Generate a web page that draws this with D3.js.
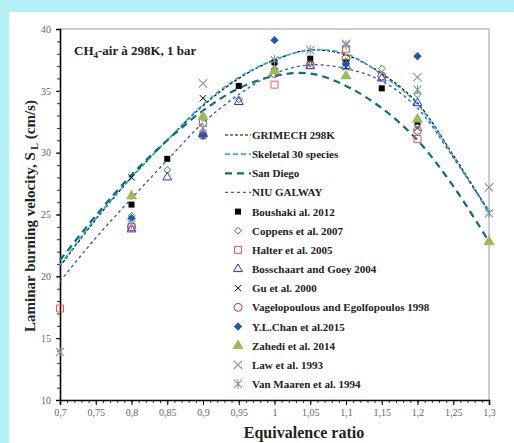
<!DOCTYPE html>
<meta charset="utf-8">
<script src="https://cdn.jsdelivr.net/npm/d3@7/dist/d3.min.js"></script>
<style>
    body { margin: 0; background: #b4f1f7; }
    svg { display: block; }
</style>
<div id="my_dataviz"></div>
<script>
    // model curves, sampled every 0.05
    let phiModel = [0.7, 0.75, 0.8, 0.85, 0.9, 0.95, 1.0, 1.05, 1.1, 1.15, 1.2, 1.25, 1.3];
    let grimech  = [20.8, 24.6, 28.0, 31.0, 33.8, 36.0, 37.5, 38.3, 37.9, 36.4, 34.0, 29.8, 25.2];
    let skeletal = [20.9, 24.7, 28.0, 31.0, 33.9, 36.1, 37.5, 38.3, 38.0, 36.3, 33.9, 29.7, 25.1];
    let sanDiego = [21.3, 24.9, 28.2, 31.0, 33.4, 35.2, 36.2, 36.4, 35.4, 33.6, 31.0, 27.3, 22.8];
    let niuGalway = [19.6, 23.1, 26.3, 29.4, 32.4, 34.7, 36.4, 37.1, 36.8, 35.8, 33.6, 29.6, 25.3];

    // experiments
    let boushakiX = [0.8, 0.85, 0.95, 1.0, 1.05, 1.1, 1.15, 1.2];
    let boushakiY = [25.8, 29.5, 35.4, 37.3, 37.6, 37.3, 35.2, 32.5];
    let coppensX = [0.8, 0.85, 0.9, 0.95, 1.0, 1.05, 1.1, 1.15, 1.2];
    let coppensY = [24.9, 28.6, 32.8, 34.3, 36.7, 37.2, 37.4, 36.8, 34.7];
    let halterX = [0.7, 0.8, 0.9, 1.0, 1.1, 1.2];
    let halterY = [17.4, 24.0, 32.4, 35.5, 38.4, 31.1];
    let bosschaartX = [0.8, 0.85, 0.9, 0.95, 1.0, 1.05, 1.1, 1.15, 1.2];
    let bosschaartY = [23.8, 28.0, 31.5, 34.1, 36.6, 37.0, 37.0, 36.0, 34.0];
    let guX = [0.8, 0.9, 1.0, 1.1, 1.2];
    let guY = [28.0, 34.4, 37.0, 36.9, 32.0];
    let vageloX = [0.8, 0.9, 1.0, 1.05, 1.1, 1.15, 1.2];
    let vageloY = [24.0, 31.4, 36.4, 37.1, 37.6, 36.2, 31.8];
    let chanX = [0.8, 0.9, 1.0, 1.1, 1.2];
    let chanY = [24.7, 31.4, 39.1, 37.2, 37.8];
    let zahediX = [0.8, 0.9, 1.0, 1.1, 1.2, 1.3];
    let zahediY = [26.5, 32.9, 36.6, 36.2, 32.7, 22.8];
    let lawX = [0.9, 1.1, 1.2, 1.3];
    let lawY = [35.6, 38.8, 36.1, 27.2];
    let maarenX = [0.7, 0.8, 0.9, 1.0, 1.05, 1.1, 1.2, 1.3];
    let maarenY = [13.9, 24.2, 32.0, 37.5, 38.3, 38.7, 35.1, 25.1];

    let xTicks = [0.7, 0.75, 0.8, 0.85, 0.9, 0.95, 1.0, 1.05, 1.1, 1.15, 1.2, 1.25, 1.3];
    let yTicks = [10, 15, 20, 25, 30, 35, 40];

    let W = 514, H = 443;
    let m = {left: 60, right: 489, top: 29, bottom: 400};

    let svg = d3.select("#my_dataviz").append("svg")
        .attr("width", W)
        .attr("height", H)
    ;

    svg.append("rect")
        .attr("x", 9).attr("y", 12)
        .attr("width", W - 9).attr("height", H - 12)
        .attr("fill", "#fff")
    ;

    let xScale = d3.scaleLinear().domain([0.7, 1.3]).range([m.left, m.right]);
    let yScale = d3.scaleLinear().domain([10, 40]).range([m.bottom, m.top]);

    let fmt = d => String(+d.toFixed(2)).replace(".", ",");

    // frame (top/right grey)
    svg.append("path")
        .attr("d", `M${m.left},${m.top}H${m.right}V${m.bottom}`)
        .attr("fill", "none")
        .attr("stroke", "#bdbdbd")
        .attr("stroke-width", 1.5)
    ;

    // minor ticks
    let minorX = d3.range(70, 131).map(d => d / 100);
    svg.append("g")
        .attr("transform", `translate(0,${m.bottom})`)
        .call(d3.axisBottom(xScale).tickValues(minorX).tickSize(3).tickFormat(""))
        .call(g => g.select(".domain").remove())
        .call(g => g.selectAll("line").attr("stroke", "#000").attr("stroke-width", 0.8))
    ;
    let minorY = d3.range(10, 41);
    svg.append("g")
        .attr("transform", `translate(${m.left},0)`)
        .call(d3.axisLeft(yScale).tickValues(minorY).tickSize(3).tickFormat(""))
        .call(g => g.select(".domain").remove())
        .call(g => g.selectAll("line").attr("stroke", "#000").attr("stroke-width", 0.8))
    ;

    let xAxis = d3.axisBottom(xScale)
        .tickValues(xTicks)
        .tickSize(5)
        .tickPadding(4)
        .tickFormat(fmt)
    ;
    let yAxis = d3.axisLeft(yScale)
        .tickValues(yTicks)
        .tickSize(4)
        .tickPadding(5)
    ;

    svg.append("g")
        .attr("transform", `translate(0,${m.bottom})`)
        .call(xAxis)
        .call(g => g.select(".domain").attr("stroke", "#000").attr("stroke-width", 1.6))
        .call(g => g.selectAll("line").attr("stroke", "#000"))
        .call(g => g.selectAll("text").attr("fill", "#666").attr("font-family", "Liberation Serif").attr("font-size", 10))
    ;
    svg.append("g")
        .attr("transform", `translate(${m.left},0)`)
        .call(yAxis)
        .call(g => g.select(".domain").attr("stroke", "#000").attr("stroke-width", 1.6))
        .call(g => g.selectAll("line").attr("stroke", "#000"))
        .call(g => g.selectAll("text").attr("fill", "#666").attr("font-family", "Liberation Serif").attr("font-size", 10))
    ;

    // curves
    let models = [
        {name: "GRIMECH 298K", y: grimech, color: "#000", dash: "3,2", w: 1.2},
        {name: "Skeletal 30 species", y: skeletal, color: "#2cb3e6", dash: "5,3", w: 1.6},
        {name: "San Diego", y: sanDiego, color: "#0b6f76", dash: "7,5", w: 2.2},
        {name: "NIU GALWAY", y: niuGalway, color: "#3c5d8c", dash: "3,3", w: 1.3}
    ];

    let line = d3.line()
        .x((d, i) => xScale(phiModel[i]))
        .y(d => yScale(d))
        .curve(d3.curveCatmullRom.alpha(0.5))
    ;

    models.forEach(md => {
        svg.append("path")
            .attr("d", line(md.y))
            .attr("fill", "none")
            .attr("stroke", md.color)
            .attr("stroke-width", md.w)
            .attr("stroke-dasharray", md.dash)
        ;
    });

    // markers
    const sym = (type, size) => d3.symbol().type(type).size(size)();
    const asterisk = r => `M${-r},${-r}L${r},${r}M${-r},${r}L${r},${-r}M0,${-r * 1.2}L0,${r * 1.2}`;
    const cross = r => `M${-r},${-r}L${r},${r}M${-r},${r}L${r},${-r}`;

    let series = [
        {name: "Boushaki al. 2012", x: boushakiX, y: boushakiY, path: sym(d3.symbolSquare, 36), fill: "#000", stroke: "none"},
        {name: "Coppens et al. 2007", x: coppensX, y: coppensY, path: "M0,-3.4L3.4,0L0,3.4L-3.4,0Z", fill: "none", stroke: "#1f9a1f", sw: 1},
        {name: "Halter et al. 2005", x: halterX, y: halterY, path: sym(d3.symbolSquare, 49), fill: "none", stroke: "#ff4d4d", sw: 1},
        {name: "Bosschaart and Goey 2004", x: bosschaartX, y: bosschaartY, path: sym(d3.symbolTriangle, 34), fill: "none", stroke: "#2a2aff", sw: 1},
        {name: "Gu et al. 2000", x: guX, y: guY, path: cross(3.2), fill: "none", stroke: "#000", sw: 1},
        {name: "Vagelopoulous and Egolfopoulos 1998", x: vageloX, y: vageloY, path: sym(d3.symbolCircle, 50), fill: "none", stroke: "#c0392b", sw: 1},
        {name: "Y.L.Chan et al.2015", x: chanX, y: chanY, path: "M0,-4.2L4.2,0L0,4.2L-4.2,0Z", fill: "#1f5aa6", stroke: "none"},
        {name: "Zahedi et al. 2014", x: zahediX, y: zahediY, path: sym(d3.symbolTriangle, 55), fill: "#9bbb59", stroke: "none"},
        {name: "Law et al. 1993", x: lawX, y: lawY, path: cross(4.2), fill: "none", stroke: "#8497b0", sw: 1.1},
        {name: "Van Maaren et al. 1994", x: maarenX, y: maarenY, path: asterisk(4), fill: "none", stroke: "#8497b0", sw: 1.1}
    ];

    series.forEach(s => {
        svg.append("g").selectAll("path")
            .data(s.x.map((d, i) => [d, s.y[i]]))
            .enter()
            .append("path")
            .attr("transform", d => `translate(${xScale(d[0])},${yScale(d[1])})`)
            .attr("d", s.path)
            .attr("fill", s.fill)
            .attr("stroke", s.stroke)
            .attr("stroke-width", s.sw || 0)
        ;
    });

    // legend
    let legend = svg.append("g")
        .attr("font-family", "Liberation Serif")
        .attr("font-weight", "bold")
        .attr("font-size", 11)
        .attr("fill", "#222")
    ;
    let ly0 = 135, ldy = 19.15;
    models.forEach((md, i) => {
        let yy = ly0 + i * ldy;
        legend.append("line")
            .attr("x1", 225).attr("x2", 251)
            .attr("y1", yy).attr("y2", yy)
            .attr("stroke", md.color)
            .attr("stroke-width", md.w)
            .attr("stroke-dasharray", md.dash)
        ;
        legend.append("text").attr("x", 252).attr("y", yy + 4).text(md.name);
    });
    series.forEach((s, i) => {
        let yy = ly0 + (i + 4) * ldy;
        legend.append("path")
            .attr("transform", `translate(238,${yy})`)
            .attr("d", s.path)
            .attr("fill", s.fill)
            .attr("stroke", s.stroke)
            .attr("stroke-width", s.sw || 0)
        ;
        legend.append("text").attr("x", 252).attr("y", yy + 4).text(s.name);
    });

    // title
    let title = svg.append("text")
        .attr("x", 74).attr("y", 55)
        .attr("font-family", "Liberation Serif")
        .attr("font-weight", "bold")
        .attr("font-size", 13)
        .attr("fill", "#222")
    ;
    title.append("tspan").text("CH");
    title.append("tspan").attr("font-size", 9).attr("dy", 3).text("4");
    title.append("tspan").attr("dy", -3).text("-air à 298K, 1 bar");

    // axis titles
    let yl = svg.append("text")
        .attr("transform", `translate(35,216) rotate(-90)`)
        .attr("text-anchor", "middle")
        .attr("font-family", "Liberation Serif")
        .attr("font-weight", "bold")
        .attr("font-size", 15)
        .attr("fill", "#222")
    ;
    yl.append("tspan").text("Laminar burning velocity, S");
    yl.append("tspan").attr("font-size", 10).attr("dy", 3).text(" L");
    yl.append("tspan").attr("dy", -3).text(" (cm/s)");

    svg.append("text")
        .attr("x", 304).attr("y", 438)
        .attr("text-anchor", "middle")
        .attr("font-family", "Liberation Serif")
        .attr("font-weight", "bold")
        .attr("font-size", 16)
        .attr("fill", "#222")
        .text("Equivalence ratio")
    ;
</script>
